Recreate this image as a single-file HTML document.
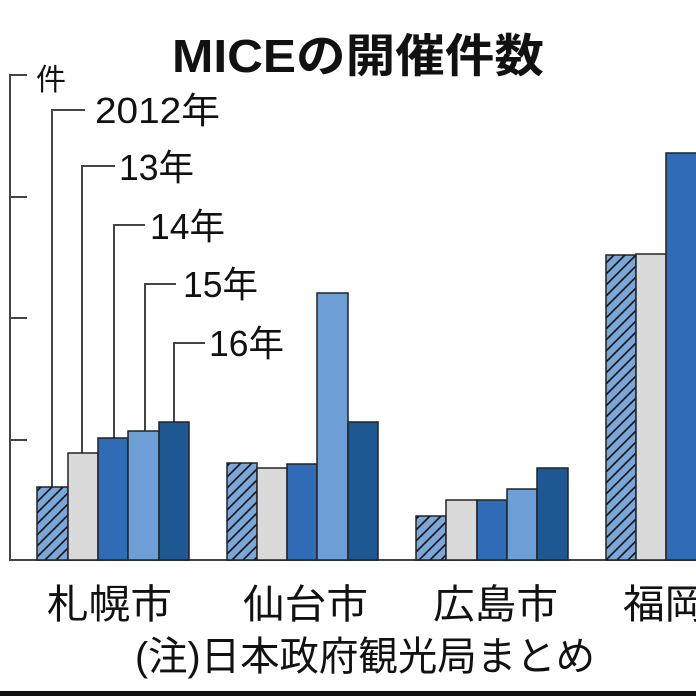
<!DOCTYPE html>
<html><head><meta charset="utf-8"><style>
html,body{margin:0;padding:0;background:#fff;}
svg{display:block;}
text{font-family:"Liberation Sans","Noto Sans CJK JP",sans-serif;fill:#111;}
</style></head><body>
<svg width="696" height="696" viewBox="0 0 696 696" xmlns="http://www.w3.org/2000/svg">
<defs>
<pattern id="h" patternUnits="userSpaceOnUse" width="11" height="11">
<rect width="11" height="11" fill="#7aa6d8"/>
<path d="M-2,13 L13,-2 M-2,2 L2,-2 M9,13 L13,9" stroke="#111" stroke-width="1.6"/>
</pattern>
</defs>
<rect width="696" height="696" fill="#fff"/>
<text x="358" y="72" font-size="46" font-weight="bold" text-anchor="middle" textLength="372" lengthAdjust="spacingAndGlyphs">MICEの開催件数</text>
<g stroke="#444" stroke-width="2" fill="none">
<path d="M27,75 H10 V560 H696"/>
<path d="M10,197 H27 M10,318 H27 M10,440 H27"/>
<path d="M85,110 H52 V487"/>
<path d="M115,166 H82 V453"/>
<path d="M145,225 H114 V438"/>
<path d="M176,284 H145 V431"/>
<path d="M205,343 H174 V422"/>
</g>
<text x="36" y="90" font-size="30">件</text>
<text x="95" y="123" font-size="36" textLength="125" lengthAdjust="spacingAndGlyphs">2012年</text>
<text x="119" y="180" font-size="36" textLength="75" lengthAdjust="spacingAndGlyphs">13年</text>
<text x="150" y="239" font-size="36" textLength="75" lengthAdjust="spacingAndGlyphs">14年</text>
<text x="183" y="297" font-size="36" textLength="75" lengthAdjust="spacingAndGlyphs">15年</text>
<text x="209" y="356" font-size="36" textLength="75" lengthAdjust="spacingAndGlyphs">16年</text>
<g stroke="#222" stroke-width="1.5">
<rect x="37" y="487" width="31" height="73" fill="url(#h)"/>
<rect x="68" y="453" width="30" height="107" fill="#dadada"/>
<rect x="98" y="438" width="30" height="122" fill="#2f6cb5"/>
<rect x="128" y="431" width="31" height="129" fill="#6d9fd6"/>
<rect x="159" y="422" width="30" height="138" fill="#1d5893"/>
<rect x="227" y="463" width="30" height="97" fill="url(#h)"/>
<rect x="257" y="468" width="30" height="92" fill="#dadada"/>
<rect x="287" y="464" width="30" height="96" fill="#2f6cb5"/>
<rect x="317" y="293" width="31" height="267" fill="#6d9fd6"/>
<rect x="348" y="422" width="30" height="138" fill="#1d5893"/>
<rect x="416" y="516" width="30" height="44" fill="url(#h)"/>
<rect x="446" y="500" width="31" height="60" fill="#dadada"/>
<rect x="477" y="500" width="30" height="60" fill="#2f6cb5"/>
<rect x="507" y="489" width="30" height="71" fill="#6d9fd6"/>
<rect x="537" y="468" width="31" height="92" fill="#1d5893"/>
<rect x="606" y="255" width="30" height="305" fill="url(#h)"/>
<rect x="636" y="254" width="30" height="306" fill="#dadada"/>
<rect x="666" y="153" width="32" height="407" fill="#2f6cb5"/>
</g>
<text x="47" y="618" font-size="40" textLength="125" lengthAdjust="spacingAndGlyphs">札幌市</text>
<text x="243" y="618" font-size="40" textLength="125" lengthAdjust="spacingAndGlyphs">仙台市</text>
<text x="433" y="618" font-size="40" textLength="125" lengthAdjust="spacingAndGlyphs">広島市</text>
<text x="623" y="618" font-size="40" textLength="125" lengthAdjust="spacingAndGlyphs">福岡市</text>
<text x="135" y="670" font-size="40" textLength="460" lengthAdjust="spacingAndGlyphs">(注)日本政府観光局まとめ</text>
<rect x="0" y="691" width="696" height="5" fill="#111"/>
</svg>
</body></html>
